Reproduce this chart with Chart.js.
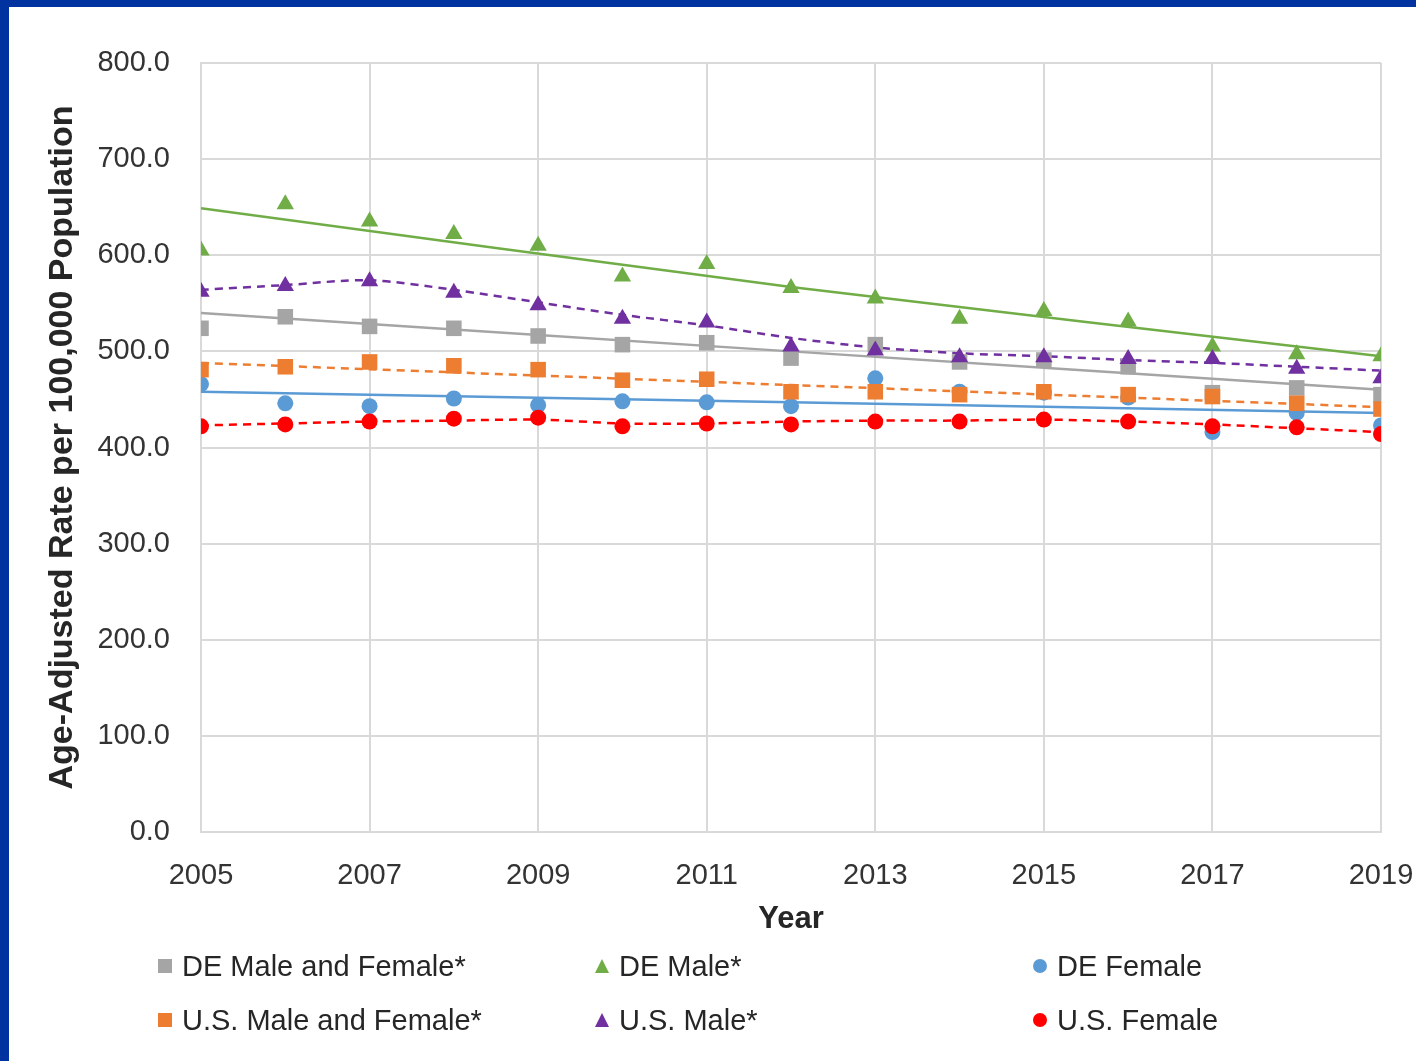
<!DOCTYPE html>
<html>
<head>
<meta charset="utf-8">
<script src="https://cdn.jsdelivr.net/npm/chart.js@4.4.1/dist/chart.umd.min.js"></script>
<style>
  html, body { margin: 0; padding: 0; background: #fff; }
  #wrap { position: relative; width: 1416px; height: 1061px; overflow: hidden; background: #fff; }
  #frameTop { position: absolute; left: 0; top: 0; width: 1416px; height: 7px; background: #0033a0; }
  #frameLeft { position: absolute; left: 0; top: 0; width: 9px; height: 1061px; background: #0033a0; }
  #myChart { position: absolute; left: 0; top: 0; }
  #legend { position: absolute; left: 0; top: 0; font-family: "Liberation Sans", Arial, sans-serif; font-size: 29px; color: #262626; }
  .item { position: absolute; display: flex; align-items: center; white-space: nowrap; }
  .mk { margin-right: 10px; }
</style>
</head>
<body>
<div id="wrap">
  <div id="frameTop"></div>
  <div id="frameLeft"></div>
  <canvas id="myChart" width="1416" height="1061"></canvas>
  <div id="legend"></div>
</div>
<script>
const years = [2005, 2006, 2007, 2008, 2009, 2010, 2011, 2012, 2013, 2014, 2015, 2016, 2017, 2018, 2019];

// markers
const deBoth   = [524, 536, 526, 524, 516, 507, 509, 493, 507, 489, 491, 484, 457, 462, 455];
const deMale   = [605, 653, 635, 622, 610, 578, 591, 566, 555, 534, 542, 531, 505, 497, 495];
const deFemale = [466, 446, 443, 451, 444, 448, 447, 443, 472, 458, 457, 452, 416, 436, 423];
const usBoth   = [481, 484, 489, 485, 481, 470, 471, 458, 458, 455, 458, 455, 453, 446, 440];
const usMale   = [562, 568, 573, 561, 548, 534, 530, 505, 501, 494, 494, 492, 492, 482, 472];
const usFemale = [422, 424, 427, 430, 431, 422, 425, 424, 427, 427, 429, 427, 422, 421, 414];

// trend lines
const trendYearsShort = [2005, 2012, 2019];
const deBothTrend   = [540, 500, 460];
const deMaleTrend   = [649, 567, 495];
const deFemaleTrend = [458, 447, 436];
const usBothTrend   = [488, 465, 442];
const usMaleTrend   = [564, 569, 574, 564, 551, 538, 527, 514, 504, 498, 495, 491, 488, 484, 480];
const usFemaleTrend = [423, 425, 427, 428, 429, 425, 425, 427, 428, 428, 429, 427, 424, 420, 416];

const yTicks = [0, 100, 200, 300, 400, 500, 600, 700, 800];

const labels = ['DE Male and Female*', 'DE Male*', 'DE Female', 'U.S. Male and Female*', 'U.S. Male*', 'U.S. Female'];
const colors = ['#a5a5a5', '#70ad47', '#5b9bd5', '#ed7d31', '#7030a0', '#ff0000'];
const styles = ['rect', 'triangle', 'circle', 'rect', 'triangle', 'circle'];

function pts(xs, ys) {
   return ys.map((y, i) => ({x: xs[i], y: y}));
}

const markerData = [deBoth, deMale, deFemale, usBoth, usMale, usFemale];
const trendData = [
   pts(trendYearsShort, deBothTrend),
   pts(trendYearsShort, deMaleTrend),
   pts(trendYearsShort, deFemaleTrend),
   pts(trendYearsShort, usBothTrend),
   pts(years, usMaleTrend),
   pts(years, usFemaleTrend)
];

const datasets = [];
markerData.forEach((vals, i) => {
   const r = styles[i] === 'rect' ? 11 : (styles[i] === 'triangle' ? 10 : 8);
   datasets.push({
      label: labels[i],
      data: pts(years, vals),
      showLine: false,
      pointStyle: styles[i],
      pointRadius: r,
      pointHoverRadius: r,
      pointBackgroundColor: colors[i],
      pointBorderColor: colors[i],
      pointBorderWidth: 0,
      backgroundColor: colors[i],
      borderColor: colors[i],
      order: 20 - i
   });
});
trendData.forEach((d, i) => {
   datasets.push({
      label: labels[i] + ' trend',
      data: d,
      showLine: true,
      pointRadius: 0,
      borderColor: colors[i],
      borderWidth: 2.5,
      borderDash: i >= 3 ? [8, 6] : [],
      tension: 0.3,
      fill: false,
      order: 40 - i
   });
});

const gridColor = '#d9d9d9';
const tickFont = {family: '"Liberation Sans", Arial, sans-serif', size: 29};
const titleFont = {family: '"Liberation Sans", Arial, sans-serif', size: 31, weight: 'bold'};

const ctx = document.getElementById('myChart').getContext('2d');
const chart = new Chart(ctx, {
   type: 'scatter',
   data: {datasets: datasets},
   options: {
      responsive: false,
      animation: false,
      events: [],
      layout: {padding: {left: 40, top: 63, right: 35, bottom: 119}},
      plugins: {
         legend: {display: false},
         tooltip: {enabled: false}
      },
      scales: {
         x: {
            type: 'linear',
            min: 2005,
            max: 2019,
            afterFit: s => { s.height = 110; s.paddingLeft = 0; s.paddingRight = 0; },
            afterBuildTicks: s => { s.ticks = years.filter((y, i) => i % 2 === 0).map(v => ({value: v})); },
            ticks: {font: tickFont, color: '#333', padding: 27, maxRotation: 0, callback: v => String(v)},
            grid: {color: gridColor, lineWidth: 2, drawTicks: false},
            border: {color: gridColor, width: 2},
            title: {display: true, text: 'Year', font: titleFont, color: '#262626', padding: {top: 4, bottom: 4}}
         },
         y: {
            min: 0,
            max: 800,
            afterFit: s => { s.width = 161; s.paddingTop = 0; s.paddingBottom = 0; },
            afterBuildTicks: s => { s.ticks = yTicks.map(v => ({value: v})); },
            ticks: {font: tickFont, color: '#333', padding: 31, callback: v => v.toFixed(1)},
            grid: {color: gridColor, lineWidth: 2, drawTicks: false},
            border: {color: gridColor, width: 2},
            title: {display: true, text: 'Age-Adjusted Rate per 100,000 Population', font: {family: titleFont.family, size: 34, weight: 'bold'}, color: '#262626', padding: {top: 2, bottom: 2}}
         }
      }
   }
});

// legend, 3 columns x 2 rows
const legend = document.getElementById('legend');
const colX = [158, 595, 1033];
const rowY = [966, 1020];
labels.forEach((lab, i) => {
   const item = document.createElement('div');
   item.className = 'item';
   item.style.left = colX[i % 3] + 'px';
   item.style.top = (rowY[Math.floor(i / 3)] - 18) + 'px';
   item.style.height = '36px';
   const mk = document.createElement('div');
   mk.className = 'mk';
   if (styles[i] === 'rect') {
      mk.style.cssText = `width:14px;height:14px;background:${colors[i]};`;
   } else if (styles[i] === 'circle') {
      mk.style.cssText = `width:14px;height:14px;border-radius:50%;background:${colors[i]};`;
   } else {
      mk.style.cssText = `width:0;height:0;border-left:7px solid transparent;border-right:7px solid transparent;border-bottom:14px solid ${colors[i]};`;
   }
   const txt = document.createElement('span');
   txt.textContent = lab;
   item.appendChild(mk);
   item.appendChild(txt);
   legend.appendChild(item);
});
</script>
</body>
</html>
